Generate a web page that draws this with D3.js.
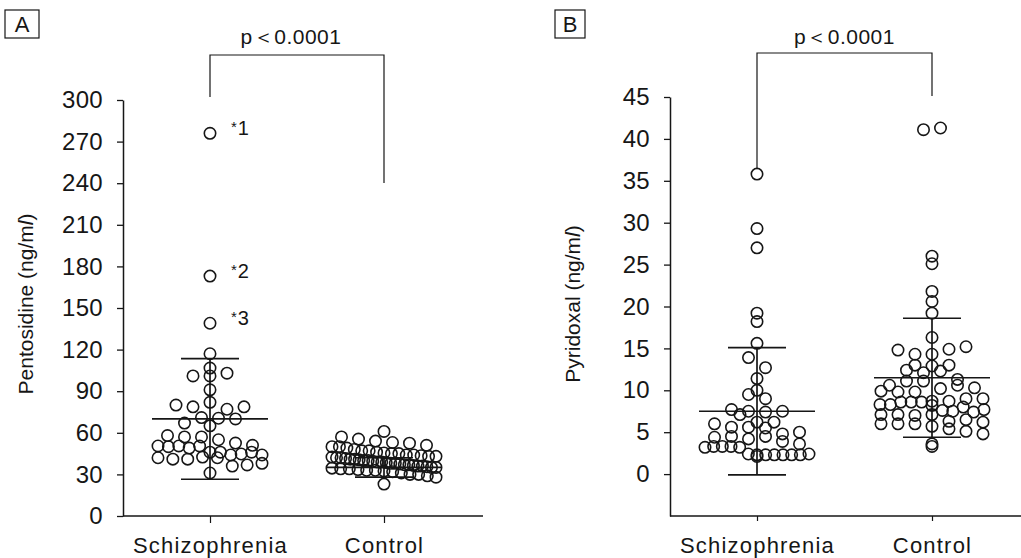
<!DOCTYPE html>
<html>
<head>
<meta charset="utf-8">
<script src="https://cdn.jsdelivr.net/npm/d3@7"></script>
<style>
  body { margin: 0; background: #fff; }
  svg { display: block; font-family: "Liberation Sans", Arial, Helvetica, sans-serif; }
  text { fill: #161616; }
</style>
</head>
<body>
<svg width="1021" height="558"></svg>
<script>
var categories = ["Schizophrenia", "Control"];

/* pentosidine, ng/ml */
var pentosidineSchizo = [276, 173, 139, 117, 106.7, 101, 101, 103, 91, 80, 78.7, 82, 77, 78.7,
  67, 71, 70.5, 70, 65, 58, 57, 57, 55, 52.6, 50.5, 50, 51, 50.5, 49, 50.5,
  46, 46, 42, 41, 44, 41, 44.7, 42.5, 46, 44, 42, 36, 36.8, 38, 31];
var pentosidineControl = [61, 57, 55.5, 54, 53, 52.5, 51, 50, 50, 49, 48, 47, 47, 46, 45.5,
  45, 45, 44, 44, 43.5, 43, 43, 42.5, 42, 42, 41.5, 41, 41, 40.5, 40, 40, 39.5, 39, 39,
  38.5, 38, 38, 37.5, 37, 37, 36.5, 36, 36, 35.5, 35, 35, 34.5, 34, 34, 33.5, 33, 33,
  32.5, 32, 31, 30, 30, 29, 28, 23];
var pentosidineMean = [70, 35];
var pentosidineSD = [43.5, 7];
var pentosidineTicks = [0, 30, 60, 90, 120, 150, 180, 210, 240, 270, 300];

/* pyridoxal, ng/ml */
var pyridoxalSchizo = [35.8, 29.3, 27.0, 19.2, 18.2, 15.6, 13.9, 12.7, 11.4, 10.0, 9.5, 9.0,
  7.7, 7.5, 7.1, 7.4, 7.5, 6.2, 6.0, 5.6, 5.6, 6.2, 5.5, 4.8, 4.4, 4.5, 4.2, 4.5, 5.0, 3.9,
  3.2, 3.3, 3.6, 3.3, 3.3, 3.2, 2.4, 2.3, 2.3, 2.3, 2.1, 2.3, 2.3, 2.3, 2.4];
var pyridoxalControl = [41.1, 41.3, 26.0, 25.1, 21.8, 20.6, 19.2, 16.3, 14.8, 14.3, 14.3, 14.9,
  15.2, 13.0, 12.4, 12.1, 12.3, 12.9, 13.0, 10.6, 11.1, 11.3, 11.1, 10.2, 10.6, 9.9, 10.3,
  9.8, 9.8, 8.3, 8.7, 8.3, 8.7, 9.0, 8.6, 9.0, 8.6, 8.6, 8.2, 7.1, 7.1, 7.6, 7.5, 8.0, 7.4,
  7.0, 7.7, 7.1, 6.0, 6.0, 6.3, 6.5, 6.0, 5.7, 6.2, 5.4, 5.1, 4.8, 3.3, 3.6];
var pyridoxalMean = [7.5, 11.5];
var pyridoxalSD = [7.6, 7.1];
var pyridoxalTicks = [0, 5, 10, 15, 20, 25, 30, 35, 40, 45];

var outlierNotes = ["1", "2", "3"];
var pText = "p\uFF1C0.0001";

var svg = d3.select("svg");
var ink = "#161616";

/* prism-like column scatter: bin by pixel row, spread points across the row */
function swarm(values, y, cx) {
  var binH = 11, maxW = 104, step = 17;
  var rows = d3.group(values.map(function(v) { return {v: v, py: y(v)}; }),
    function(d) { return Math.round(d.py / binH); });
  var out = [];
  rows.forEach(function(row) {
    var n = row.length,
        sp = n > 1 ? Math.min(step, maxW / (n - 1)) : 0;
    row.forEach(function(d, k) {
      out.push({v: d.v, x: cx + (k - (n - 1) / 2) * sp, y: d.py});
    });
  });
  return out;
}

function panel(o) {
  var g = svg.append("g");
  var y = d3.scaleLinear().domain(o.domain).range([516, o.top]);
  var x = d3.scalePoint().domain(categories).range(o.centers);

  // panel letter box
  g.append("rect").attr("x", o.box[0]).attr("y", 10).attr("width", o.box[1]).attr("height", 28)
    .attr("fill", "none").attr("stroke", ink).attr("stroke-width", 1.2);
  g.append("text").attr("x", o.box[0] + o.box[1] / 2).attr("y", 32)
    .attr("text-anchor", "middle").style("font-size", "22px").text(o.letter);

  // y axis
  var ya = g.append("g").attr("transform", "translate(" + o.axisX + ",0)")
    .call(d3.axisLeft(y).tickValues(o.ticks).tickSize(6).tickSizeOuter(0).tickPadding(14));
  ya.select(".domain").attr("stroke", ink).attr("stroke-width", 1.5);
  ya.selectAll(".tick line").attr("stroke", ink).attr("stroke-width", 1.3);
  ya.selectAll(".tick text").attr("fill", ink).style("font-size", "24px")
    .style("font-family", "Liberation Sans, Arial, sans-serif").style("letter-spacing", "0.3px");

  // x axis
  g.append("line").attr("x1", o.axisX).attr("x2", o.axisEnd).attr("y1", 516).attr("y2", 516)
    .attr("stroke", ink).attr("stroke-width", 1.5);
  var xa = g.append("g").attr("transform", "translate(0,516)")
    .call(d3.axisBottom(x).tickSize(o.xTick).tickPadding(21 - o.xTick));
  xa.select(".domain").remove();
  xa.selectAll(".tick line").attr("stroke", ink).attr("stroke-width", 1.2);
  xa.selectAll(".tick text").attr("fill", ink).style("font-size", "22px")
    .style("font-family", "Liberation Sans, Arial, sans-serif").style("letter-spacing", "1.2px");

  // y label
  var lab = g.append("text")
    .attr("transform", "translate(" + (o.axisX - 90) + ",304) rotate(-90)")
    .attr("text-anchor", "middle").style("font-size", "21px");
  lab.append("tspan").text(o.label + " (ng/m");
  lab.append("tspan").style("font-style", "italic").text("l");
  lab.append("tspan").text(")");

  // points
  o.series.forEach(function(vals, i) {
    var pts = swarm(vals, y, x(categories[i]));
    g.append("g").selectAll("circle").data(pts).enter().append("circle")
      .attr("cx", function(d) { return d.x; })
      .attr("cy", function(d) { return d.y; })
      .attr("r", 5.7)
      .attr("fill", "none").attr("stroke", ink).attr("stroke-width", 1.6);
  });

  // mean and SD bars
  categories.forEach(function(c, i) {
    var cx = x(c), m = o.mean[i], s = o.sd[i];
    var bars = g.append("g").attr("stroke", ink).attr("stroke-width", 1.7);
    bars.append("line").attr("x1", cx).attr("x2", cx).attr("y1", y(m - s)).attr("y2", y(m + s));
    bars.append("line").attr("x1", cx - 58).attr("x2", cx + 58).attr("y1", y(m)).attr("y2", y(m));
    [m - s, m + s].forEach(function(v) {
      bars.append("line").attr("x1", cx - 29).attr("x2", cx + 29).attr("y1", y(v)).attr("y2", y(v));
    });
  });

  // significance bracket
  var x0 = x(categories[0]), x1 = x(categories[1]);
  g.append("path")
    .attr("d", "M" + x0 + "," + o.bracket[1] + "V" + o.bracket[0] + "H" + x1 + "V" + o.bracket[2])
    .attr("fill", "none").attr("stroke", ink).attr("stroke-width", 1.2);
  g.append("text").attr("x", (x0 + x1) / 2 + o.pShift).attr("y", 44).attr("text-anchor", "middle")
    .style("font-size", "21px").style("letter-spacing", "0.5px").text(pText);

  return {g: g, x: x, y: y};
}

var A = panel({
  letter: "A", box: [5, 34], axisX: 123, axisEnd: 483, top: 100,
  domain: [0, 300], ticks: pentosidineTicks, centers: [210, 384], xTick: 7,
  label: "Pentosidine", series: [pentosidineSchizo, pentosidineControl],
  mean: pentosidineMean, sd: pentosidineSD, bracket: [55, 97, 183], pShift: -6
});

var B = panel({
  letter: "B", box: [555, 30], axisX: 670, axisEnd: 1021, top: 97,
  domain: [-5, 45], ticks: pyridoxalTicks, centers: [757, 932], xTick: 5,
  label: "Pyridoxal", series: [pyridoxalSchizo, pyridoxalControl],
  mean: pyridoxalMean, sd: pyridoxalSD, bracket: [53, 168, 96], pShift: 0
});

// *1 *2 *3 next to the three highest schizophrenia values
var top3 = pentosidineSchizo.slice().sort(d3.descending).slice(0, 3);
top3.forEach(function(v, i) {
  var t = A.g.append("text")
    .attr("x", A.x(categories[0]) + 21)
    .attr("y", A.y(v) + 2)
    .style("font-size", "20px");
  t.append("tspan").style("font-size", "15px").attr("dy", -3).text("*");
  t.append("tspan").attr("dy", 3).attr("dx", 1).text(outlierNotes[i]);
});
</script>
</body>
</html>
